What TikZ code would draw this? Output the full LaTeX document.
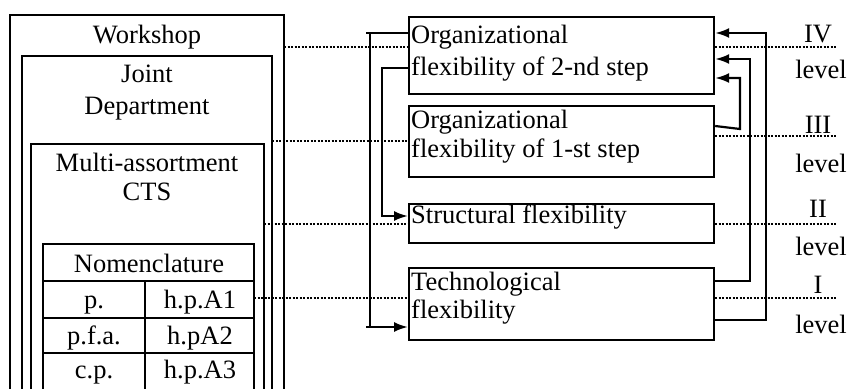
\documentclass[tikz,border=0pt]{standalone}
\usepackage{fontspec}
\setmainfont{Liberation Serif}
\usetikzlibrary{arrows.meta}
\begin{document}
\begin{tikzpicture}[x=1pt,y=-1pt,
  frame/.style={draw=black,line width=2.2pt},
  box/.style={draw=black,line width=2.2pt,anchor=north west,inner sep=0pt},
  txt/.style={anchor=base,inner sep=0pt,font=\fontsize{26.5}{30}\selectfont},
  ltxt/.style={anchor=base west,inner sep=0pt,font=\fontsize{26.5}{30}\selectfont},
  dot/.style={line width=2.8pt,dash pattern=on 2.2pt off 1.3pt,black},
  conn/.style={line width=2.2pt,black},
  arr/.style={conn,-{Latex[length=14pt,width=10pt]}}]
\useasboundingbox (0,0) rectangle (848,388);
\begin{scope}
\clip (0,0) rectangle (848,388);
% left nested frames (open at the bottom)
\draw[frame] (10,395) |- (284,15) -- (284,395);
\draw[frame] (22,395) |- (272,56) -- (272,395);
\draw[frame] (31,395) |- (264,144) -- (264,395);
\draw[frame] (43,395) |- (254,244) -- (254,395);
\draw[frame] (43,281) -- (254,281);
\draw[frame] (43,318) -- (254,318);
\draw[frame] (43,353) -- (254,353);
\draw[frame] (145,281) -- (145,395);
\end{scope}
\coordinate (ws) at (284,47);
\coordinate (jd) at (272,141);
\coordinate (ma) at (264,224);
\coordinate (nm) at (254,298);
\node[txt] (tws) at (147,43) {Workshop};
\node[txt] (tj1) at (147,82) {Joint};
\node[txt] (tj2) at (147,114) {Department};
\node[txt] (tm1) at (147,171) {Multi-assortment};
\node[txt] (tm2) at (147,200) {CTS};
\node[txt] (tn) at (149,272) {Nomenclature};
\node[txt] (c11) at (94,308) {p.};
\node[txt] (c12) at (200,308) {h.p.A1};
\node[txt] (c21) at (94,344) {p.f.a.};
\node[txt] (c22) at (200,344) {h.pA2};
\node[txt] (c31) at (94,378) {c.p.};
\node[txt] (c32) at (200,378) {h.p.A3};
% right boxes
\node[box,minimum width=305pt,minimum height=77pt] (b1) at (408,16) {};
\node[box,minimum width=305pt,minimum height=71pt] (b2) at (408,105) {};
\node[box,minimum width=305pt,minimum height=39pt] (b3) at (408,203) {};
\node[box,minimum width=305pt,minimum height=72pt] (b4) at (408,267) {};
\node[ltxt] (t1a) at (411,43) {Organizational};
\node[ltxt] (t1b) at (411,75) {flexibility of 2-nd step};
\node[ltxt] (t2a) at (411,128) {Organizational};
\node[ltxt] (t2b) at (411,157) {flexibility of 1-st step};
\node[ltxt] (t3) at (411,223) {Structural flexibility};
\node[ltxt] (t4a) at (411,290) {Technological};
\node[ltxt] (t4b) at (411,318) {flexibility};
% level labels
\node[txt] (l4) at (818,42) {IV};
\node[txt] (v4) at (821,78) {level};
\node[txt] (l3) at (818,133) {III};
\node[txt] (v3) at (821,172) {level};
\node[txt] (l2) at (818,217) {II};
\node[txt] (v2) at (821,255) {level};
\node[txt] (l1) at (818,293) {I};
\node[txt] (v1) at (821,333) {level};
\coordinate (e4) at (836,47);
\coordinate (e3) at (836,136);
\coordinate (e2) at (836,224);
\coordinate (e1) at (836,298);
% dotted level lines
\draw[dot] (ws) -- (b1.west|-ws);
\draw[dot] (b1.east|-e4) -- (e4);
\draw[dot] (jd) -- (b2.west|-jd);
\draw[dot] (b2.east|-e3) -- (e3);
\draw[dot] (ma) -- (b3.west|-ma);
\draw[dot] (b3.east|-e2) -- (e2);
\draw[dot] (nm) -- (b4.west|-nm);
\draw[dot] (b4.east|-e1) -- (e1);
% left connectors
\draw[conn] (b1.west|-0,33) -- (366,33);
\draw[conn] (370,33) -- (370,327);
\draw[arr] (366,327) -- (b4.west|-0,327);
\draw[arr] (b1.west|-0,68) -| (382,216) -- (b3.west|-0,216);
% right connectors
\draw[arr] (b4.east|-0,320) -| (766,33) -- (b1.east|-0,33);
\draw[arr] (b4.east|-0,281) -| (750,59) -- (b1.east|-0,59);
\draw[arr] (b2.east|-0,126) -- (740,129) -- (740,78) -- (b1.east|-0,78);
\end{tikzpicture}
\end{document}
